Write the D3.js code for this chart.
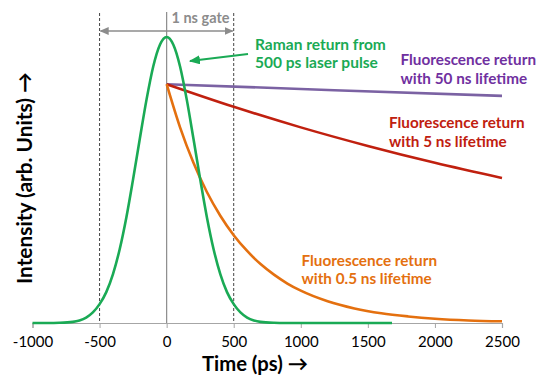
<!DOCTYPE html>
<html>
<head>
<meta charset="utf-8">
<script src="https://cdn.jsdelivr.net/npm/d3@7"></script>
<style>
  body { margin: 0; background: #fff; }
  svg text { font-family: Lato, "Open Sans", sans-serif; }
</style>
</head>
<body>
<div id="chart"></div>
<script>
// Raman return (500 ps pulse)
var ramanTime = [-1000, -900, -800, -700, -650, -600, -550, -500, -450, -400, -350, -300, -250, -200, -150, -100, -50, 0,
                 50, 100, 150, 200, 250, 300, 350, 400, 450, 500, 550, 600, 650, 700, 800, 900, 1000, 1680];
var ramanValue = [0, 0.0002, 0.001, 0.004, 0.009, 0.019, 0.037, 0.066, 0.108, 0.171, 0.258, 0.37, 0.503, 0.644, 0.781, 0.897, 0.973, 1,
                  0.973, 0.897, 0.781, 0.644, 0.503, 0.37, 0.258, 0.171, 0.108, 0.066, 0.037, 0.019, 0.009, 0.004, 0.001, 0.0002, 0, 0];

// fluorescence returns
var fastTime = [0, 100, 200, 300, 400, 500, 600, 700, 800, 900, 1000, 1200, 1400, 1600, 1800, 2000, 2250, 2500];
var fastValue = [0.835, 0.684, 0.56, 0.458, 0.375, 0.307, 0.252, 0.206, 0.169, 0.138, 0.113, 0.076, 0.051, 0.034, 0.023, 0.015, 0.009, 0.006];
var midTime = [0, 500, 1000, 1500, 2000, 2500];
var midValue = [0.835, 0.756, 0.684, 0.619, 0.56, 0.507];
var slowTime = [0, 1250, 2500];
var slowValue = [0.835, 0.814, 0.794];

var xTicks = [-1000, -500, 0, 500, 1000, 1500, 2000, 2500];
var gateEdges = [-500, 500];

var width = 539, height = 379;
var svg = d3.select("#chart").append("svg")
  .attr("width", width)
  .attr("height", height);

var x = d3.scaleLinear().domain([-1000, 2500]).range([32.5, 502]);
var y = d3.scaleLinear().domain([0, 1]).range([323, 37]);

var grey = "#8c8c8c";

// shrink/grow a text so that it spans a given width
function fitWidth(sel, target) {
  var fs = parseFloat(sel.style("font-size"));
  var w = sel.node().getComputedTextLength();
  sel.style("font-size", (fs * target / w).toFixed(2) + "px");
}

// gate lines
svg.selectAll(".gate")
  .data(gateEdges)
  .enter().append("line")
  .attr("x1", d => x(d)).attr("x2", d => x(d))
  .attr("y1", 13).attr("y2", y(0))
  .attr("stroke", "#444").attr("stroke-width", 1)
  .attr("stroke-dasharray", "3,2");

// zero line
svg.append("line")
  .attr("x1", x(0)).attr("x2", x(0))
  .attr("y1", 12).attr("y2", y(0))
  .attr("stroke", grey).attr("stroke-width", 1.2);

// arrow heads
var defs = svg.append("defs");
function marker(id, color, w, h) {
  defs.append("marker")
    .attr("id", id)
    .attr("viewBox", "0 0 10 10")
    .attr("refX", 9).attr("refY", 5)
    .attr("markerWidth", w).attr("markerHeight", h)
    .attr("markerUnits", "userSpaceOnUse")
    .attr("orient", "auto-start-reverse")
    .attr("preserveAspectRatio", "none")
    .append("path")
    .attr("d", "M0,0 L10,5 L0,10 Z")
    .attr("fill", color);
}
marker("ag", grey, 9, 8);
marker("agr", "#1aaa55", 11, 9);

svg.append("line")
  .attr("x1", x(-500) + 1).attr("x2", x(500) - 1)
  .attr("y1", 31).attr("y2", 31)
  .attr("stroke", grey).attr("stroke-width", 1.6)
  .attr("marker-start", "url(#ag)")
  .attr("marker-end", "url(#ag)");

var gateLabel = svg.append("text")
  .attr("x", 200.5).attr("y", 23)
  .attr("text-anchor", "middle")
  .attr("fill", grey)
  .style("font-weight", "bold").style("font-size", "16px")
  .text("1 ns gate");
fitWidth(gateLabel, 58);

// x axis
var xAxis = d3.axisBottom(x).tickValues(xTicks).tickSize(5).tickPadding(8).tickFormat(d => String(d));
var gx = svg.append("g")
  .attr("transform", "translate(0," + y(0) + ")")
  .call(xAxis);
gx.select(".domain").attr("stroke", "#a6a6a6").attr("stroke-width", 1.2);
gx.selectAll(".tick line").attr("stroke", "#a6a6a6");
gx.selectAll(".tick text")
  .style("font-size", "15px").style("font-family", "Lato, sans-serif")
  .attr("fill", "#000");

// curves
var line = d3.line().curve(d3.curveMonotoneX)
  .x(d => x(d[0])).y(d => y(d[1]));

function series(t, v) { return t.map((d, i) => [d, v[i]]); }

var curves = [
  { pts: series(slowTime, slowValue), color: "#7b62a3" },
  { pts: series(midTime, midValue), color: "#c0200f" },
  { pts: series(fastTime, fastValue), color: "#e4700f" },
  { pts: series(ramanTime, ramanValue), color: "#1aaa55" }
];

svg.selectAll(".curve")
  .data(curves)
  .enter().append("path")
  .attr("class", "curve")
  .attr("d", d => line(d.pts))
  .attr("fill", "none")
  .attr("stroke", d => d.color)
  .attr("stroke-width", 2.6);

// annotations
var notes = [
  { lines: ["Raman return from", "500 ps laser pulse"], x: 255, y: 49.5, w: 131, color: "#1aaa55" },
  { lines: ["Fluorescence return", "with 50 ns lifetime"], x: 400.5, y: 65, w: 135.5, color: "#7030a0" },
  { lines: ["Fluorescence return", "with 5 ns lifetime"], x: 389, y: 128, w: 135.5, color: "#c0200f" },
  { lines: ["Fluorescence return", "with 0.5 ns lifetime"], x: 301.5, y: 265.5, w: 135.5, color: "#e4700f" }
];

notes.forEach(function(n) {
  var t = svg.append("text")
    .attr("x", n.x).attr("y", n.y)
    .attr("fill", n.color)
    .style("font-weight", "bold").style("font-size", "16px");
  var first = t.append("tspan").attr("x", n.x).text(n.lines[0]);
  var fs = 16 * n.w / first.node().getComputedTextLength();
  t.style("font-size", fs.toFixed(2) + "px");
  t.append("tspan").attr("x", n.x).attr("dy", 18.8).text(n.lines[1]);
});

// green arrow to the pulse
svg.append("line")
  .attr("x1", 248).attr("y1", 54)
  .attr("x2", 190).attr("y2", 61)
  .attr("stroke", "#1aaa55").attr("stroke-width", 2.2)
  .attr("marker-end", "url(#agr)");

// axis titles
var xTitle = svg.append("text")
  .attr("x", 255).attr("y", 371)
  .attr("text-anchor", "middle")
  .style("font-weight", "bold").style("font-size", "21px")
  .text("Time (ps) \u2192");
fitWidth(xTitle, 106);

var yTitle = svg.append("text")
  .attr("transform", "translate(32,178) rotate(-90)")
  .attr("text-anchor", "middle")
  .style("font-weight", "bold").style("font-size", "20px")
  .text("Intensity (arb. Units) \u2192");
fitWidth(yTitle, 212);
</script>
</body>
</html>
